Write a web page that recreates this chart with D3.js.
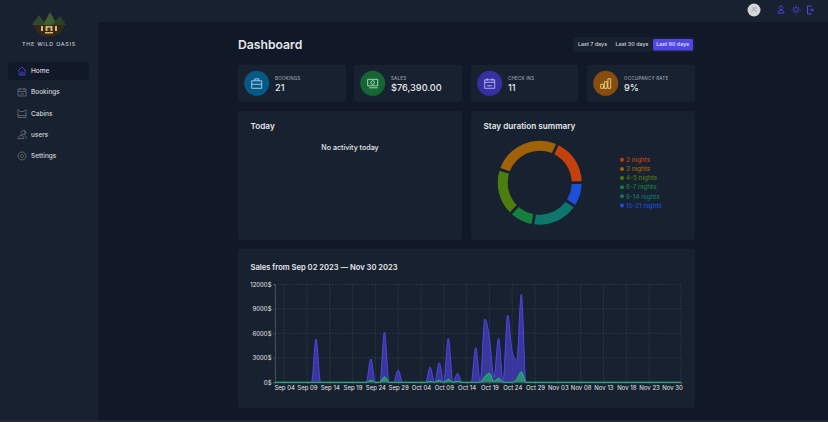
<!DOCTYPE html>
<html>
<head>
<meta charset="utf-8">
<script src="https://cdn.jsdelivr.net/npm/d3@7"></script>
<style>
  html, body { margin: 0; padding: 0; background: #111827; overflow: hidden; }
  svg { display: block; }
  text { font-family: Inter, "Noto Sans", sans-serif; }
</style>
</head>
<body>
<script>
// values
const navItems = ["Home", "Bookings", "Cabins", "users", "Settings"];
const filterLabels = ["Last 7 days", "Last 30 days", "Last 90 days"];
const statLabels = ["BOOKINGS", "SALES", "CHECK INS", "OCCUPANCY RATE"];
const statValues = ["21", "$76,390.00", "11", "9%"];
const durationLabels = ["2 nights", "3 nights", "4-5 nights", "6-7 nights", "8-14 nights", "15-21 nights"];
const durationValues = [4, 6, 4, 2, 4, 2];
const durationColors = ["#c2410c", "#a16207", "#4d7c0f", "#15803d", "#0f766e", "#1d4ed8"];
const salesTicks = [0, 3000, 6000, 9000, 12000];
const dateTicks = ["Sep 04", "Sep 09", "Sep 14", "Sep 19", "Sep 24", "Sep 29", "Oct 04", "Oct 09", "Oct 14",
  "Oct 19", "Oct 24", "Oct 29", "Nov 03", "Nov 08", "Nov 13", "Nov 18", "Nov 23", "Nov 30"];
const totalSales = [
  0, 0, 0, 0, 0, 0, 0, 0, 0, 5300,
  0, 0, 0, 0, 0, 0, 0, 0, 0, 0,
  0, 2850, 0, 0, 6150, 0, 0, 1500, 0, 0,
  0, 0, 0, 0, 1850, 0, 2400, 0, 5400, 0,
  1100, 0, 0, 0, 4250, 0, 7750, 5500, 600, 5400,
  0, 8250, 3750, 2650, 10800, 0, 0, 0, 0, 0,
  0, 0, 0, 0, 0, 0, 0, 0, 0, 0,
  0, 0, 0, 0, 0, 0, 0, 0, 0, 0,
  0, 0, 0, 0, 0, 0, 0, 0, 0, 0
];
const extrasSales = [
  0, 0, 0, 0, 0, 0, 0, 0, 0, 0,
  0, 0, 0, 0, 0, 0, 0, 0, 0, 0,
  0, 250, 0, 0, 680, 0, 0, 0, 0, 0,
  0, 0, 0, 0, 100, 0, 250, 0, 370, 0,
  120, 0, 0, 0, 0, 0, 700, 1100, 100, 500,
  0, 0, 0, 400, 1300, 0, 0, 0, 0, 0,
  0, 0, 0, 0, 0, 0, 0, 0, 0, 0,
  0, 0, 0, 0, 0, 0, 0, 0, 0, 0,
  0, 0, 0, 0, 0, 0, 0, 0, 0, 0
];

const days = d3.timeDay.range(new Date(2023, 8, 2), new Date(2023, 11, 1));
const fmtDay = d3.timeFormat("%b %d");

const svg = d3.select("body").append("svg").attr("width", 828).attr("height", 422);

function rect(x, y, w, h, fill, r) {
  return svg.append("rect").attr("x", x).attr("y", y).attr("width", w).attr("height", h)
    .attr("fill", fill).attr("rx", r || 0);
}

function label(x, y, str, size, fill, weight, anchor) {
  return svg.append("text").attr("x", x).attr("y", y).attr("dy", "0.35em")
    .attr("font-size", size).attr("fill", fill).attr("font-weight", weight || 400)
    .attr("text-anchor", anchor || "start").text(str);
}

// page shell
rect(0, 0, 828, 422, "#111827");
rect(0, 0, 98, 422, "#18212f");
rect(0, 0, 828, 22, "#18212f");
rect(0, 420, 828, 2, "#28282c");

// logo
const logo = svg.append("g").attr("transform", "translate(49,23)");
logo.append("path").attr("d", "M-16,-3 C-16,9 -8,14 0,14 C8,14 16,9 16,-3 Z").attr("fill", "#33281a");
["M-17,2 L-10,-8 L-3,2 Z", "M-6,2 L1,-11 L8,2 Z", "M3,2 L11,-7 L17,2 Z"].forEach((d, i) => {
  logo.append("path").attr("d", d).attr("fill", ["#2f4a2c", "#3f5f33", "#2c4029"][i]);
});
[[-8, 3, 2, 5], [-3.500, 3, 7, 5], [6, 3, 2, 5], [-4, 9, 8, 1.500]].forEach(t => {
  logo.append("rect").attr("x", t[0]).attr("y", t[1]).attr("width", t[2]).attr("height", t[3])
    .attr("fill", "#d9b673");
});
logo.append("rect").attr("x", -1.500).attr("y", 4.500).attr("width", 3).attr("height", 3.500).attr("fill", "#4a3418");
label(49, 44.5, "THE WILD OASIS", 5.4, "#c3c7ce", 500, "middle").attr("letter-spacing", 0.75);

// sidebar nav
const navY = [71, 92, 113.5, 134.5, 156];
const navIcons = [
  "M-4,0 L0,-4 L4,0 M-3,-1 V4 H3 V-1 M-1,4 V1 H1 V4",
  "M-4,-3 H4 V4 H-4 Z M-4,-0.5 H4 M-2,-4 V-2 M2,-4 V-2 M-2,2 H2",
  "M-4,4 V-4 L-2,-2 H2 L4,-4 V4 Z M-4,2 H4",
  "M-1,-2 A2,2 0 1 1 -1,-1.9 M-4,4 C-4,0 2,0 2,4 Z M2,-4 A2,2 0 0 1 2,0 M3,1 C4,2 4.500,3 4.500,4",
  "M4,0 A4,4 0 1 1 3.990,-0.300 Z M1.500,0 A1.500,1.500 0 1 1 1.490,-0.200 Z"
];
rect(8, 62, 81, 18, "#111827", 3);
navItems.forEach((name, i) => {
  svg.append("path").attr("d", navIcons[i]).attr("transform", `translate(22,${navY[i]})`)
    .attr("fill", "none").attr("stroke", i === 0 ? "#4f46e5" : "#6b7280").attr("stroke-width", 0.8);
  label(31, navY[i], name, 6.5, "#d1d5db", 500);
});

// header icons
svg.append("circle").attr("cx", 754).attr("cy", 10).attr("r", 6.5).attr("fill", "#d4d6d9");
svg.append("path").attr("d", "M751.500,12 L754,9 L756.500,12 M752,8 H757").attr("stroke", "#a3a6ab").attr("fill", "none");
const headIcons = [
  "M781,6 A1.800,1.800 0 1 1 780.900,6 Z M778,13 C778,9 784,9 784,13 Z",
  "M796,7.500 A2.200,2.200 0 1 1 795.900,7.500 Z M796,5.500 V6.500 M796,13.500 V14.500 M791.500,10 H792.500 M799.500,10 H800.500 M793,7 L793.700,7.700 M798.300,12.300 L799,13 M793,13 L793.700,12.300 M798.300,7.700 L799,7",
  "M811,7 V6 H807.500 V14 H811 V13 M809.500,10 H813.500 M812,8.500 L813.500,10 L812,11.500"
];
headIcons.forEach(d => {
  svg.append("path").attr("d", d).attr("fill", "none").attr("stroke", "#4f46e5").attr("stroke-width", 1);
});

// title and period filter
label(238, 45, "Dashboard", 12.2, "#e5e7eb", 600);
rect(573, 37, 122, 15, "#18212f", 1.5);
rect(653, 39, 40, 11.5, "#4f46e5", 1.5);
const filterX = [592.5, 632, 672.7];
filterLabels.forEach((name, i) => {
  label(filterX[i], 44.5, name, 5.4, i === 2 ? "#e0e7ff" : "#d1d5db", 500, "middle");
});

// stat cards
const cardX = [238, 354, 471, 587];
const cardW = [108, 108, 107, 108];
const statColors = ["#075985", "#166534", "#3730a3", "#854d0e"];
const statIconColors = ["#bae6fd", "#bbf7d0", "#c7d2fe", "#fde68a"];
const statIcons = [
  "M-5,-2.500 H5 V5 H-5 Z M-2,-2.500 V-4.500 H2 V-2.500 M-5,1 H5",
  "M-5,-4 H5 V2.500 H-5 Z M-3.500,4.500 H5 M-1.800,-0.800 A1.800,1.800 0 1 0 1.800,-0.800 A1.800,1.800 0 1 0 -1.800,-0.800",
  "M-5,-3.500 H5 V5 H-5 Z M-5,-1 H5 M-2.500,-5 V-2.500 M2.500,-5 V-2.500 M-2.500,2.500 H2.500",
  "M-5,1 H-2.200 V5 H-5 Z M-1.400,-1.500 H1.400 V5 H-1.400 Z M2.200,-4.500 H5 V5 H2.200 Z"
];
statLabels.forEach((name, i) => {
  const cx = cardX[i] + 18.7;
  rect(cardX[i], 65, cardW[i], 37, "#18212f", 2);
  svg.append("circle").attr("cx", cx).attr("cy", 83.3).attr("r", 12.5).attr("fill", statColors[i]);
  svg.append("path").attr("d", statIcons[i]).attr("transform", `translate(${cx},83.3)`)
    .attr("fill", "none").attr("stroke", statIconColors[i]).attr("stroke-width", 0.8);
  label(cardX[i] + 37, 78, name, 4.5, "#9ca3af", 500).attr("letter-spacing", 0.2);
  label(cardX[i] + 37, 87.5, statValues[i], 9.2, "#e5e7eb", 500);
});

// today card
rect(238, 111, 224, 129, "#18212f", 2);
label(250.5, 126, "Today", 8.2, "#e5e7eb", 600);
label(350, 148, "No activity today", 7.1, "#e5e7eb", 500, "middle");

// stay duration donut
rect(471, 111, 224, 129, "#18212f", 2);
label(483.5, 126, "Stay duration summary", 8.2, "#e5e7eb", 600);

const pie = d3.pie().sort(null).value(d => d)
  .startAngle(Math.PI / 2).endAngle(Math.PI / 2 - 2 * Math.PI).padAngle(3 * Math.PI / 180);
const arc = d3.arc().innerRadius(32).outerRadius(42);
const donut = svg.append("g").attr("transform", "translate(539.7,182.7)");
donut.selectAll("path").data(pie(durationValues)).enter().append("path")
  .attr("d", arc)
  .attr("fill", (d, i) => durationColors[i]);

const legendY = d3.scaleBand().domain(durationLabels).range([155.2, 210]);
const legend = svg.selectAll(".legend").data(durationLabels).enter().append("g")
  .attr("class", "legend")
  .attr("transform", d => `translate(622,${legendY(d) + legendY.bandwidth() / 2})`);
legend.append("circle").attr("r", 2).attr("fill", (d, i) => durationColors[i]);
legend.append("text").attr("x", 4).attr("dy", "0.35em").attr("font-size", 6.3).attr("font-weight", 500)
  .attr("fill", (d, i) => durationColors[i]).text(d => d);

// sales area chart
rect(238, 249, 457, 159, "#18212f", 2);
label(250.5, 267, "Sales from Sep 02 2023 — Nov 30 2023", 7.6, "#e5e7eb", 600);

const x = d3.scaleTime().domain([days[0], days[days.length - 1]]).range([275, 681]);
const y = d3.scaleLinear().domain([0, 12000]).range([382.3, 284.3]);
const tickDates = days.filter(d => dateTicks.includes(fmtDay(d)));

const grid = svg.append("g").attr("stroke", "#4b5563").attr("stroke-width", 0.5).attr("stroke-dasharray", "1.500,1.500");
grid.selectAll(".gx").data(tickDates.concat(days[0])).enter().append("line")
  .attr("x1", d => x(d)).attr("x2", d => x(d)).attr("y1", y(12000)).attr("y2", y(0));
grid.selectAll(".gy").data(salesTicks).enter().append("line")
  .attr("x1", x.range()[0]).attr("x2", x.range()[1]).attr("y1", d => y(d)).attr("y2", d => y(d));

const yAxis = svg.append("g").attr("transform", "translate(275,0)")
  .call(d3.axisLeft(y).tickValues(salesTicks).tickSize(2).tickPadding(1.500).tickFormat(d => d + "$"));
const xAxis = svg.append("g").attr("transform", "translate(0,382.3)")
  .call(d3.axisBottom(x).tickValues(tickDates).tickSize(2).tickPadding(1.500).tickFormat(fmtDay));
[xAxis, yAxis].forEach(a => {
  a.selectAll("text").attr("fill", "#e5e7eb").attr("font-size", 6).attr("font-family", "Inter, sans-serif");
  a.selectAll("line, path").attr("stroke", "#6b7280").attr("stroke-width", 0.5);
});
// last label is pulled in so it stays inside the plot, like the original
xAxis.selectAll(".tick text").filter(d => fmtDay(d) === "Nov 30").attr("dx", -9);

function drawArea(values, color) {
  const area = d3.area().curve(d3.curveMonotoneX)
    .x((d, i) => x(days[i])).y0(y(0)).y1(d => y(d));
  const line = d3.line().curve(d3.curveMonotoneX)
    .x((d, i) => x(days[i])).y(d => y(d));
  svg.append("path").datum(values).attr("d", area).attr("fill", color).attr("fill-opacity", 0.6);
  svg.append("path").datum(values).attr("d", line).attr("fill", "none").attr("stroke", color).attr("stroke-width", 1);
}
drawArea(totalSales, "#4f46e5");
drawArea(extrasSales, "#22c55e");
</script>
</body>
</html>
